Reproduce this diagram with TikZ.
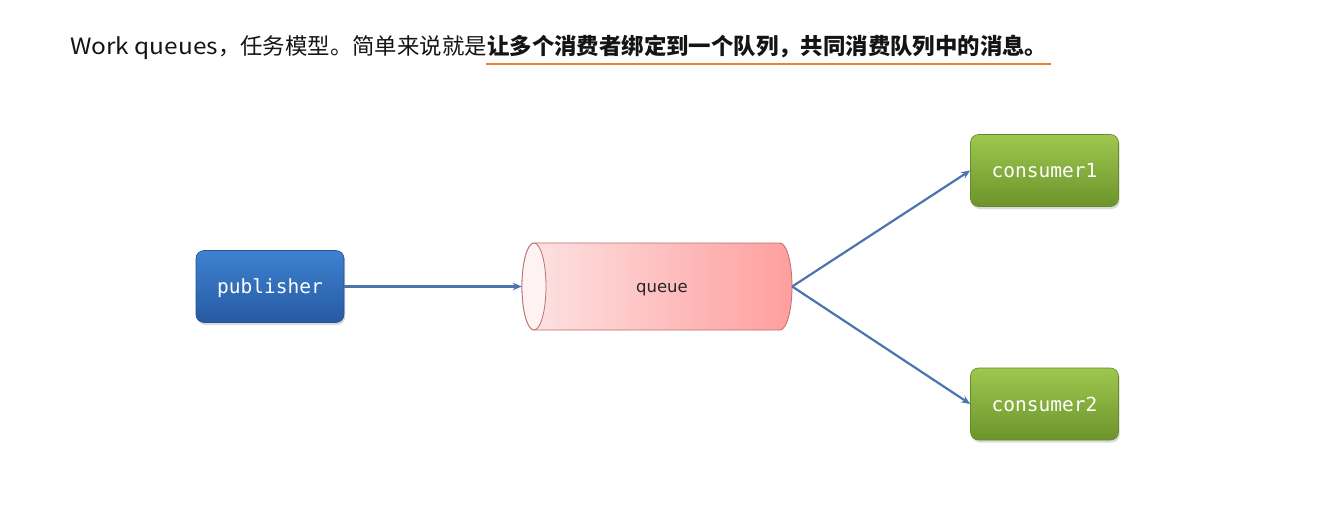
\documentclass[tikz,border=0pt]{standalone}
\usepackage{fontspec}
\newfontfamily\cjk{Noto Sans CJK SC}
\newfontfamily\monof{DejaVu Sans Mono}
\newfontfamily\labelf{DejaVu Sans}
\usetikzlibrary{arrows.meta,shadows}

\definecolor{pubtop}{RGB}{62,130,208}
\definecolor{pubbot}{RGB}{38,90,163}
\definecolor{publine}{RGB}{36,82,148}
\definecolor{contop}{RGB}{158,199,78}
\definecolor{conbot}{RGB}{108,148,44}
\definecolor{conline}{RGB}{100,138,42}
\definecolor{qleft}{RGB}{253,228,228}
\definecolor{qright}{RGB}{255,158,158}
\definecolor{qline}{RGB}{188,110,110}
\definecolor{qend}{RGB}{255,242,242}
\definecolor{linkc}{RGB}{76,116,176}
\definecolor{ulc}{RGB}{240,128,48}
\definecolor{titlec}{RGB}{20,20,20}

\tikzset{
  nodebox/.style={rounded corners=8pt, minimum width=148pt, minimum height=72pt,
    inner sep=0pt, text=white, line width=0.6pt,
    font=\monof\fontsize{19.5}{19.5}\selectfont,
    text height=14pt, text depth=0pt,
    drop shadow={opacity=0.28, shadow xshift=1.2pt, shadow yshift=-2.5pt}},
  pubbox/.style={nodebox, draw=publine, top color=pubtop, bottom color=pubbot},
  conbox/.style={nodebox, draw=conline, top color=contop, bottom color=conbot},
  link/.style={draw=linkc, line width=2.2pt, -{Stealth[length=9pt,width=7.5pt]}},
  titletext/.style={inner sep=0pt, anchor=base west, text=titlec,
    font=\cjk\fontsize{22.4}{22.4}\selectfont},
  uline/.style={draw=ulc, line width=2.6pt},
  qwall/.style={draw=qline, line width=0.8pt}
}

\begin{document}
\begin{tikzpicture}[x=1pt, y=-1pt]
  % canvas
  \fill[white] (0,0) rectangle (1319,527);
  \useasboundingbox (0,0) rectangle (1319,527);

  % heading line with the underlined key statement
  \node[titletext] (t1) at (70,55) {{\addfontfeature{FakeStretch=1.09}Work queues}，任务模型。简单来说就是};
  \node[titletext, font=\cjk\fontsize{22.4}{22.4}\selectfont\bfseries] (t2) at (t1.base east) {让多个消费者绑定到一个队列，共同消费队列中的消息。};
  \coordinate (ul) at (0,64);
  \draw[uline] ([xshift=-1pt]t2.west |- ul) -- ([xshift=3pt]t2.east |- ul);

  % queue drawn as a horizontal cylinder
  \path[qwall, left color=qleft, right color=qright]
    (534,243) -- (780,243)
    arc[start angle=-90, end angle=90, x radius=12, y radius=43.5]
    -- (534,330)
    arc[start angle=90, end angle=270, x radius=12, y radius=43.5] -- cycle;
  \path[qwall, fill=qend] (534,286.5) ellipse[x radius=12, y radius=43.5];
  \node[minimum width=270pt, minimum height=87pt, inner sep=0pt] (q) at (657,286.5) {};
  \node[inner sep=0pt, font=\labelf\fontsize{16.5}{16.5}\selectfont, text=black!85,
        anchor=base] (qlabel) at (662,292) {queue};

  % producer and consumers
  \node[pubbox] (pub) at (270,286.5) {publisher};
  \node[conbox] (c1) at (1044.5,170.5) {consumer1};
  \node[conbox] (c2) at (1044.5,404) {consumer2};

  % message flow
  \draw[link] (pub.east) -- (q.west);
  \draw[link] (q.east) -- (c1.west);
  \draw[link] (q.east) -- (c2.west);
\end{tikzpicture}
\end{document}
